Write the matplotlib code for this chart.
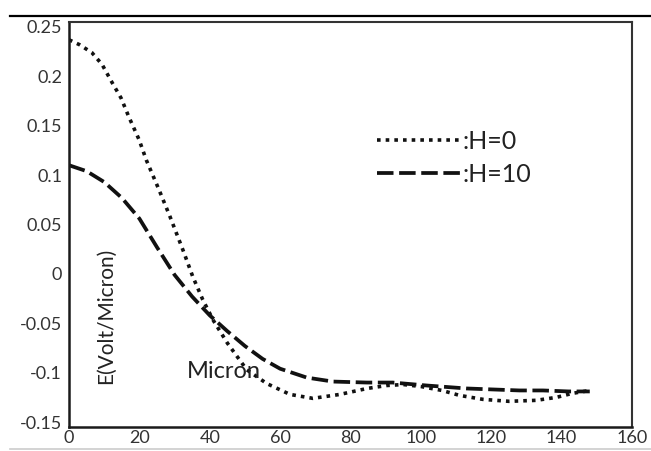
import matplotlib
matplotlib.use("Agg")
import matplotlib.pyplot as plt
from matplotlib.lines import Line2D

plt.rcParams['font.family'] = ['Lato', 'DejaVu Sans']

# data
x_h0 = [0, 3, 6.5, 9.4, 12.2, 14.8, 17, 19.9, 22, 25.6, 28.7, 32.4, 35.2, 38, 41, 45,
        50.5, 56.2, 62.8, 69.3, 77, 84.7, 90.3, 95, 100, 106, 111, 117.6, 125, 132.8,
        138.5, 143, 148]
e_h0 = [0.237, 0.232, 0.224, 0.212, 0.194, 0.178, 0.159, 0.136, 0.115, 0.085, 0.058,
        0.024, -0.003, -0.026, -0.047, -0.070, -0.097, -0.111, -0.122, -0.126, -0.122,
        -0.116, -0.113, -0.112, -0.114, -0.118, -0.123, -0.127, -0.129, -0.128, -0.125,
        -0.121, -0.118]

x_h10 = [0, 5, 10, 15, 20, 25, 30, 35, 40, 45, 50, 55, 60, 67.6,
         75, 84.7, 92, 101.7, 113, 120.5, 128, 134.7, 142, 148]
e_h10 = [0.110, 0.104, 0.093, 0.077, 0.056, 0.027, -0.001, -0.023, -0.042, -0.058,
         -0.073, -0.086, -0.096, -0.105, -0.109, -0.110, -0.110, -0.113, -0.116,
         -0.117, -0.118, -0.118, -0.119, -0.119]

x_ticks = [0, 20, 40, 60, 80, 100, 120, 140, 160]
y_ticks = [0.25, 0.2, 0.15, 0.1, 0.05, 0, -0.05, -0.1, -0.15]
y_labels = ['0.25', '0.2', '0.15', '0.1', '0.05', '0', '-0.05', '-0.1', '-0.15']
series_labels = [':H=0', ':H=10']

fig = plt.figure(figsize=(6.51, 4.51), dpi=100)
ax = fig.add_axes([69 / 651, 1 - 427 / 451, (632 - 69) / 651, (427 - 22) / 451])

dot_style = dict(color='#111111', lw=2.6, dashes=(1.0, 1.4), dash_capstyle='butt')
dash_style = dict(color='#111111', lw=2.7, dashes=(4.4, 1.5), dash_capstyle='butt')

ax.plot(x_h0, e_h0, **dot_style)
ax.plot(x_h10, e_h10, **dash_style)

ax.set_xlim(0, 160)
ax.set_ylim(-0.155, 0.255)
ax.set_xticks(x_ticks)
ax.set_xticklabels([str(v) for v in x_ticks])
ax.set_yticks(y_ticks)
ax.set_yticklabels(y_labels)
ax.tick_params(length=0, labelsize=13, labelcolor='#333333')
ax.tick_params(axis='y', pad=5)
ax.tick_params(axis='x', pad=2)

for side in ['left', 'bottom']:
    ax.spines[side].set_color('#1a1a1a')
    ax.spines[side].set_linewidth(1.8)
for side in ['top', 'right']:
    ax.spines[side].set_color('#333333')
    ax.spines[side].set_linewidth(1.5)

# text inside the plot
ax.text(33.5, -0.099, 'Micron', fontsize=17, color='#222222', ha='left', va='center')
ax.text(10.5, -0.043, 'E(Volt/Micron)', fontsize=15, color='#222222', rotation=90,
        ha='center', va='center')

handles = [Line2D([0], [0], **dot_style), Line2D([0], [0], **dash_style)]
ax.legend(handles, series_labels, loc='upper left',
          bbox_to_anchor=(377 / 651, 1 - 130 / 451), bbox_transform=fig.transFigure,
          frameon=False, fontsize=18, handlelength=3.3, handletextpad=0.1,
          borderpad=0, borderaxespad=0, labelspacing=0.4, labelcolor='#222222')

# rules above and below the figure
fig.add_artist(Line2D([10 / 651, 1], [1 - 16 / 451, 1 - 16 / 451], color='black', lw=1.6))
fig.add_artist(Line2D([10 / 651, 1], [1 - 449 / 451, 1 - 449 / 451], color='#cccccc', lw=1.2))

fig.savefig('out.png', dpi=100)
